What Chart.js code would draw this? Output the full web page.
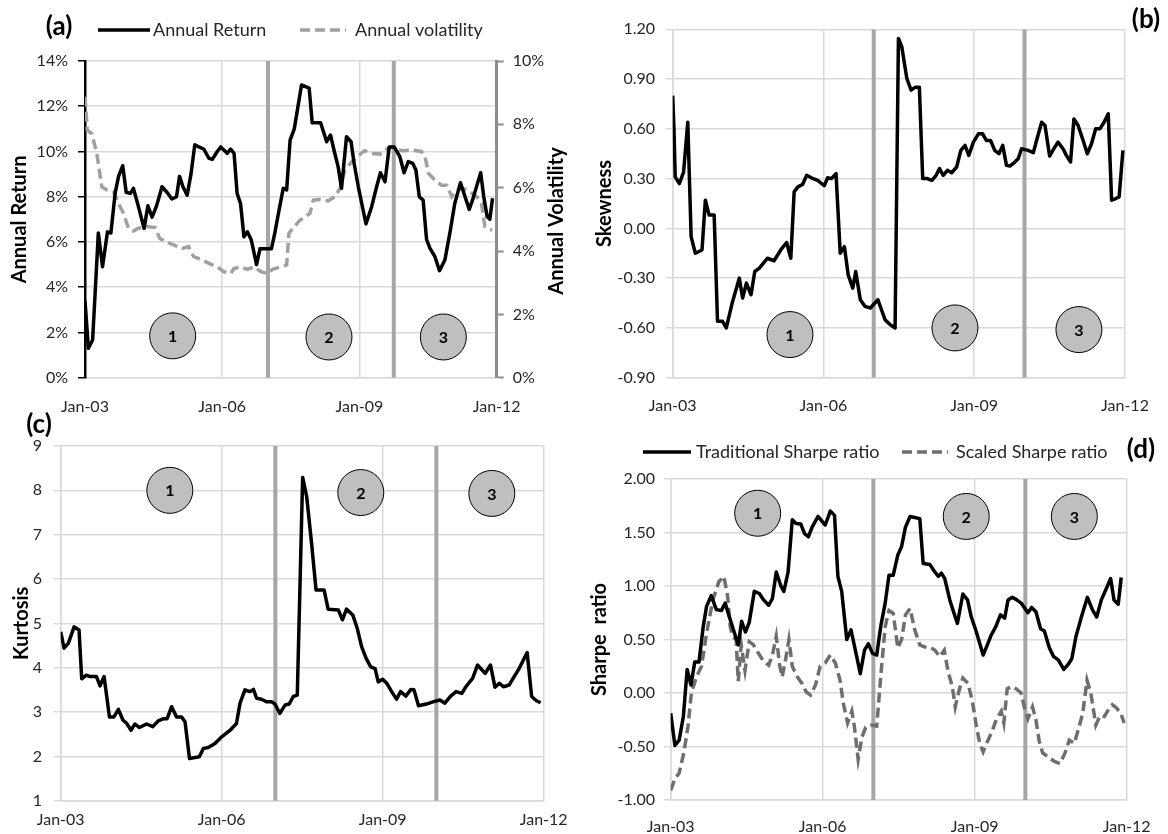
<!DOCTYPE html>
<html>
<head>
<meta charset="utf-8">
<title>Rolling statistics 2003-2012</title>
<script src="https://cdn.jsdelivr.net/npm/chart.js@4.4.1/dist/chart.umd.min.js"></script>
<style>
  html, body { margin: 0; padding: 0; background: #fff; }
  #wrap { position: relative; width: 1168px; height: 834px; overflow: hidden; }
  .panel { position: absolute; width: 584px; }
  .top { top: 0; height: 420px; }
  .bottom { top: 395px; height: 439px; }
</style>
</head>
<body>
<div id="wrap">
  <div class="panel top" style="left:0"><canvas id="chartA"></canvas></div>
  <div class="panel top" style="left:584px"><canvas id="chartB"></canvas></div>
  <div class="panel bottom" style="left:0"><canvas id="chartC"></canvas></div>
  <div class="panel bottom" style="left:584px"><canvas id="chartD"></canvas></div>
</div>
<script>
// x values are months counted from Jan-03 (0) to Jan-12 (108)
const xTickLabels = ['Jan-03', 'Jan-06', 'Jan-09', 'Jan-12'];

// regime breaks (months)
const regimeBreaksA = [48, 81];
const regimeBreaks = [48, 84];

// (a) annual return, %
const returnPoints = [[0,3.4],[0.9,1.3],[2,1.67],[3.5,6.4],[4.6,4.9],[5.9,6.45],[6.8,6.4],[7.9,8.15],[8.8,8.9],[9.9,9.37],[10.8,8.2],[11.9,8.15],[12.7,8.37],[13.8,7.7],[15.5,6.6],[16.5,7.6],[17.6,7.1],[18.7,7.56],[20.2,8.44],[21.5,8.2],[22.8,7.9],[24,8.0],[24.8,8.9],[25.7,8.44],[26.8,8.07],[27.8,9.0],[28.8,10.3],[29.9,10.2],[31.2,10.1],[32.5,9.7],[33.4,9.65],[34.7,10.0],[35.6,10.2],[37.3,9.92],[38.2,10.1],[39.1,9.92],[39.9,8.15],[40.8,7.7],[41.7,6.23],[42.6,6.45],[43.6,6.1],[45,5.0],[45.9,5.7],[47,5.7],[48.9,5.7],[49.8,6.4],[50.9,7.4],[52,8.37],[52.9,8.3],[53.8,10.5],[54.9,11.0],[56.8,12.94],[58.8,12.8],[59.6,11.27],[61.8,11.27],[63.4,10.43],[64.4,10.73],[65.4,10.0],[66.4,9.33],[67.3,8.37],[68.6,10.65],[69.8,10.43],[70.6,9.47],[71.7,8.44],[73.7,6.8],[75.2,7.56],[76.5,8.44],[77.5,9.06],[78.7,8.66],[79.8,10.2],[81.1,10.2],[82.6,9.77],[83.7,9.06],[84.8,9.55],[86,9.47],[86.8,9.18],[87.7,8.0],[88.7,7.85],[89.6,6.12],[90.5,5.72],[91.8,5.35],[93,4.73],[94.4,5.2],[95.7,6.38],[97,7.7],[98.5,8.62],[99.7,8.0],[100.8,7.44],[101.8,7.93],[102.7,8.44],[103.8,9.06],[104.6,8.0],[105.5,7.12],[106.2,7.0],[106.9,7.93]];

// (a) annual volatility, %
const volatilityPoints = [[0,8.87],[0.6,7.82],[1.8,7.7],[3.1,7.08],[4.4,6.03],[5.7,5.93],[7.5,5.87],[8.8,5.5],[10.1,5.19],[11.4,4.72],[12.7,4.63],[14,4.72],[16.2,4.77],[18.4,4.74],[19.6,4.4],[21.1,4.3],[23.3,4.19],[25.5,4.08],[27.2,4.14],[28.5,3.82],[30.3,3.74],[32.5,3.61],[34.7,3.5],[36.4,3.35],[38.2,3.29],[39.1,3.45],[40.8,3.5],[42.6,3.42],[44.3,3.5],[46.1,3.35],[47.8,3.29],[49.2,3.42],[51.4,3.5],[52.9,3.56],[53.5,4.56],[54.9,4.77],[56.2,4.95],[57.7,5.08],[59,5.19],[59.9,5.61],[61.6,5.63],[63.8,5.58],[65.6,5.72],[66.9,5.98],[68.2,6.56],[70,6.82],[71.3,6.98],[73.4,7.17],[75.2,7.08],[77.4,7.06],[79.1,7.21],[80.4,7.29],[81.3,7.21],[83.5,7.17],[85.7,7.19],[88.3,7.14],[89.2,6.98],[90.1,6.45],[91.8,6.24],[93.5,6.08],[94.9,6.08],[96.2,5.72],[97.5,5.93],[99.2,5.98],[101,5.87],[102.7,5.72],[104,5.5],[104.9,4.77],[106.2,4.68],[106.8,4.66]];

// (b) skewness
const skewPoints = [[0,0.80],[0.3,0.60],[0.6,0.31],[1.6,0.27],[2.6,0.34],[3.6,0.64],[4.4,-0.05],[5.4,-0.15],[7,-0.13],[7.8,0.17],[8.7,0.08],[9.9,0.08],[10.7,-0.56],[11.9,-0.56],[12.8,-0.60],[14.2,-0.45],[15.9,-0.30],[16.7,-0.42],[17.6,-0.33],[18.7,-0.40],[19.6,-0.26],[20.7,-0.24],[22.6,-0.18],[24.2,-0.195],[25.8,-0.13],[27.2,-0.085],[28.2,-0.18],[29,0.22],[29.9,0.25],[31,0.265],[32,0.32],[33.1,0.305],[34.6,0.29],[36.2,0.257],[37,0.305],[37.9,0.30],[39,0.33],[40,-0.15],[41,-0.11],[41.9,-0.28],[43,-0.36],[43.7,-0.26],[44.8,-0.43],[45.9,-0.47],[47.2,-0.48],[49,-0.43],[50.7,-0.55],[51.9,-0.58],[53.1,-0.60],[53.9,1.145],[54.7,1.095],[55.9,0.905],[56.9,0.834],[57.9,0.85],[58.9,0.85],[59.7,0.30],[60.8,0.30],[61.9,0.29],[62.9,0.32],[63.7,0.36],[64.6,0.32],[65.6,0.35],[66.6,0.335],[67.8,0.37],[68.8,0.47],[69.8,0.50],[70.7,0.44],[71.8,0.52],[73,0.57],[74,0.57],[74.9,0.53],[75.9,0.53],[76.9,0.47],[77.9,0.45],[78.8,0.50],[79.7,0.38],[80.5,0.376],[81.7,0.40],[82.5,0.42],[83.3,0.48],[84.9,0.47],[86.1,0.456],[87,0.54],[88.1,0.64],[88.9,0.62],[90,0.436],[91,0.48],[92,0.52],[93.2,0.48],[94,0.44],[95,0.40],[95.8,0.66],[96.8,0.62],[98,0.53],[99,0.45],[100,0.51],[101,0.60],[102,0.60],[103,0.64],[104,0.69],[104.8,0.17],[105.8,0.18],[106.6,0.19],[107.5,0.47]];

// (c) kurtosis
const kurtPoints = [[0,4.81],[0.75,4.44],[1.7,4.55],[3,4.92],[4.1,4.85],[4.7,3.75],[5.7,3.83],[6.6,3.80],[8,3.80],[8.8,3.59],[9.7,3.80],[10.9,2.89],[11.9,2.89],[12.9,3.06],[13.9,2.82],[14.8,2.74],[15.7,2.59],[16.6,2.73],[17.6,2.65],[19.2,2.73],[20.6,2.67],[21.8,2.80],[23,2.85],[23.8,2.85],[24.8,3.12],[25.9,2.89],[27,2.89],[27.8,2.78],[28.8,1.95],[31,1.99],[31.9,2.18],[33,2.2],[34.5,2.29],[36,2.44],[37.9,2.59],[39.3,2.74],[40.1,3.2],[41.2,3.5],[42.3,3.46],[43.1,3.51],[43.8,3.31],[44.9,3.29],[46,3.23],[47.2,3.23],[47.9,3.18],[49,2.97],[50.2,3.16],[51.1,3.18],[52,3.35],[52.9,3.38],[54.1,8.29],[55,7.86],[56.1,6.80],[57.1,5.75],[58.9,5.75],[59.8,5.32],[62.1,5.30],[63,5.08],[63.9,5.32],[65.3,5.19],[66.3,4.89],[67.3,4.47],[68.3,4.21],[69.3,4.02],[70.3,3.98],[71,3.68],[72,3.74],[72.9,3.65],[74,3.46],[75.1,3.29],[76,3.46],[77.2,3.36],[78.3,3.51],[79,3.50],[80,3.14],[81.8,3.18],[83.2,3.23],[84.8,3.27],[85.9,3.20],[87.2,3.36],[88.4,3.46],[89.7,3.42],[90.6,3.57],[92.1,3.76],[93.2,4.06],[94.9,3.87],[96.1,4.06],[97.1,3.56],[98.1,3.65],[99,3.57],[100.3,3.61],[101.4,3.80],[102.5,3.98],[104.3,4.34],[105.3,3.35],[106.3,3.26],[107.3,3.21]];

// (d) traditional Sharpe ratio
const sharpePoints = [[0,-0.19],[1,-0.49],[2,-0.44],[3,-0.22],[3.9,0.22],[4.8,0.075],[5.7,0.29],[6.7,0.29],[7.7,0.62],[8.5,0.81],[9.6,0.91],[10.8,0.78],[12,0.77],[12.9,0.84],[13.9,0.71],[15.1,0.56],[16,0.45],[16.8,0.67],[17.7,0.57],[18.6,0.66],[19.8,0.95],[21,0.93],[21.9,0.875],[23.2,0.82],[24.1,0.885],[25,1.13],[26.1,1.0],[26.8,0.95],[27.8,1.13],[28.8,1.62],[29.7,1.585],[30.8,1.58],[31.7,1.49],[32.6,1.46],[33.5,1.55],[34.9,1.65],[36.6,1.57],[37.8,1.70],[38.8,1.66],[39.6,1.09],[40.5,0.95],[41.7,0.50],[42.7,0.59],[43.9,0.37],[44.9,0.18],[45.9,0.40],[46.8,0.46],[47.8,0.37],[48.8,0.355],[49.8,0.635],[50.8,0.84],[51.7,1.10],[52.7,1.10],[53.8,1.29],[54.7,1.37],[55.6,1.55],[56.7,1.65],[57.8,1.64],[59,1.63],[59.8,1.21],[61.4,1.20],[62.4,1.14],[63.4,1.09],[64.1,1.12],[64.9,1.07],[66.1,0.87],[67.1,0.745],[67.9,0.65],[69.2,0.925],[70.3,0.87],[71.2,0.71],[72.4,0.57],[74,0.355],[75,0.45],[75.9,0.54],[77,0.62],[78.1,0.73],[79.1,0.70],[79.9,0.87],[80.9,0.894],[81.8,0.875],[83,0.84],[84.6,0.75],[85.5,0.80],[86.5,0.76],[87.6,0.60],[88.5,0.58],[89.7,0.42],[90.7,0.34],[91.8,0.31],[93.1,0.22],[94,0.26],[95,0.32],[96,0.53],[97.2,0.70],[98.7,0.894],[99.9,0.776],[100.9,0.71],[102,0.87],[103,0.96],[104.2,1.07],[105,0.87],[106,0.83],[106.7,1.08]];

// (d) scaled Sharpe ratio
const scaledSharpePoints = [[0,-0.91],[1,-0.80],[2,-0.75],[3.1,-0.56],[4.1,-0.31],[4.9,0],[6.1,0.15],[7.3,0.25],[8.5,0.56],[10,0.87],[11.4,1.04],[12.6,1.09],[13.5,0.90],[14.1,0.62],[14.6,0.53],[15.5,0.50],[16,0.11],[16.7,0.45],[17.6,0.21],[18.6,0.48],[19.6,0.45],[20.8,0.37],[22.1,0.29],[23.2,0.26],[24.1,0.355],[25,0.53],[25.8,0.26],[26.4,0.15],[27.2,0.31],[28,0.50],[28.8,0.25],[30,0.15],[31.1,0.09],[32.1,0.01],[33.1,-0.02],[34.3,0.075],[35.4,0.25],[36.6,0.28],[37.8,0.355],[39,0.28],[40.1,0.12],[40.9,-0.10],[41.9,-0.28],[42.9,-0.17],[43.5,-0.31],[44.4,-0.62],[45.3,-0.41],[46.2,-0.32],[47.6,-0.30],[48.8,-0.31],[49.8,0.18],[50.8,0.62],[51.7,0.77],[52.7,0.745],[53.8,0.42],[54.7,0.50],[55.6,0.73],[56.7,0.79],[57.8,0.59],[59,0.45],[60.2,0.43],[61.4,0.43],[62.6,0.40],[63.7,0.34],[64.8,0.40],[65.7,0.20],[66.7,0.06],[67.4,-0.13],[68.2,0.01],[69.2,0.14],[70.4,0.09],[71.4,-0.065],[72.4,-0.31],[73.2,-0.47],[74,-0.55],[75,-0.455],[76.1,-0.36],[77.1,-0.25],[78.3,-0.17],[78.9,-0.28],[79.7,0.04],[80.6,0.06],[81.8,0.04],[83,0.0],[83.8,-0.14],[84.6,-0.24],[85.7,-0.13],[86.5,-0.25],[87.3,-0.455],[88.1,-0.56],[89.3,-0.595],[90.9,-0.64],[92.2,-0.66],[93.4,-0.56],[94.4,-0.44],[95.6,-0.47],[96.4,-0.36],[97.6,-0.19],[98.6,0.12],[99.5,0.0],[100.7,-0.30],[101.7,-0.21],[102.7,-0.22],[103.6,-0.16],[104.6,-0.11],[105.6,-0.14],[106.6,-0.19],[107.4,-0.28]];

const FONT = 'Lato, "Open Sans", sans-serif';
const GRID = '#d9d9d9';
const INK = '#262626';

Chart.defaults.font.family = FONT;
Chart.defaults.font.size = 16;
Chart.defaults.color = INK;
Chart.defaults.animation = false;
Chart.defaults.events = [];
Chart.defaults.elements.point.radius = 0;
Chart.defaults.plugins.legend.display = false;
Chart.defaults.plugins.tooltip.enabled = false;

const toXY = pts => pts.map(([x, y]) => ({ x, y }));

// force a scale's box size so every panel keeps the reference plot area
const fixSize = (w, h) => scale => {
  if (w != null) scale.width = w;
  if (h != null) scale.height = h;
};

// legend samples, panel letters, rotated secondary title and circle numbers
const panelExtras = {
  id: 'panelExtras',
  afterDatasetsDraw(chart) {
    const ctx = chart.ctx;
    ctx.save();
    ctx.font = `bold 16px ${FONT}`;
    ctx.fillStyle = '#000';
    ctx.textAlign = 'center';
    ctx.textBaseline = 'middle';
    chart.data.datasets.forEach((ds, i) => {
      if (!ds.badges) return;
      chart.getDatasetMeta(i).data.forEach((pt, j) => ctx.fillText(ds.badges[j], pt.x, pt.y + 1));
    });
    ctx.restore();
  },
  afterDraw(chart, args, opts) {
    const ctx = chart.ctx;
    ctx.save();
    if (opts.letter) {
      ctx.font = `bold 26px ${FONT}`;
      ctx.fillStyle = '#000';
      ctx.textAlign = 'center';
      ctx.textBaseline = 'middle';
      ctx.fillText(opts.letter.text, opts.letter.x, opts.letter.y);
    }
    (opts.legend || []).forEach(item => {
      const ds = chart.data.datasets[item.index];
      ctx.strokeStyle = ds.borderColor;
      ctx.lineWidth = ds.borderWidth;
      ctx.setLineDash(ds.borderDash || []);
      ctx.beginPath();
      ctx.moveTo(item.x, item.y);
      ctx.lineTo(item.x + item.width, item.y);
      ctx.stroke();
      ctx.setLineDash([]);
      ctx.font = `18px ${FONT}`;
      ctx.fillStyle = INK;
      ctx.textAlign = 'left';
      ctx.textBaseline = 'middle';
      ctx.fillText(ds.label, item.x + item.width + (item.gap || 4), item.y);
    });
    if (opts.sideTitle) {
      ctx.translate(opts.sideTitle.x, opts.sideTitle.y);
      ctx.rotate(-Math.PI / 2);
      ctx.font = `bold 20px ${FONT}`;
      ctx.fillStyle = '#000';
      ctx.textAlign = 'center';
      ctx.textBaseline = 'middle';
      ctx.fillText(opts.sideTitle.text, 0, 0);
    }
    ctx.restore();
  }
};

function xAxis(height, pad) {
  return {
    type: 'linear',
    min: 0,
    max: 108,
    afterFit: fixSize(null, height),
    ticks: { stepSize: 36, padding: pad, autoSkip: false, maxRotation: 0, callback: v => xTickLabels[Math.round(v / 36)] },
    grid: { color: GRID, lineWidth: 1.5, drawTicks: false },
    border: { color: GRID, width: 1.5 }
  };
}

function yAxis({ min, max, step, width, pad, title, titlePad, fmt, axisColor, axisWidth, tickColor }) {
  return {
    position: 'left',
    min, max,
    afterFit: fixSize(width, null),
    ticks: { stepSize: step, padding: pad, autoSkip: false, callback: fmt },
    grid: { color: GRID, lineWidth: 1.5, tickLength: 7, tickColor: tickColor || GRID, tickWidth: 1.5 },
    border: { color: axisColor || GRID, width: axisWidth || 1.5 },
    title: { display: true, text: title, color: '#000', font: { size: 20, weight: 'bold' }, padding: { top: titlePad, bottom: 0 } }
  };
}

const fixed2 = v => (Math.abs(v) < 1e-9 ? 0 : v).toFixed(2);

function regimeLines(breaks, lo, hi, axis) {
  return breaks.map(m => ({
    label: 'regime',
    data: [{ x: m, y: lo }, { x: m, y: hi }],
    borderColor: '#a6a6a6',
    borderWidth: 4,
    yAxisID: axis,
    order: 3
  }));
}

function badges(points, axis) {
  return {
    label: 'badges',
    data: toXY(points),
    showLine: false,
    pointRadius: 23,
    pointBackgroundColor: '#bfbfbf',
    pointBorderColor: '#000',
    pointBorderWidth: 1,
    yAxisID: axis,
    order: 0,
    badges: ['1', '2', '3']
  };
}

function solid(label, points, axis) {
  return { label, data: toXY(points), borderColor: '#000', borderWidth: 3.5, borderJoinStyle: 'round', yAxisID: axis, order: 1 };
}

function dashed(label, points, axis, color) {
  return { label, data: toXY(points), borderColor: color, borderWidth: 3.5, borderDash: [10, 5], yAxisID: axis, order: 2 };
}

const base = { responsive: true, maintainAspectRatio: false };

// (a) return and volatility
new Chart(document.getElementById('chartA'), {
  type: 'line',
  data: {
    datasets: [
      solid('Annual Return', returnPoints, 'y'),
      dashed('Annual volatility', volatilityPoints, 'y2', '#a0a0a0'),
      ...regimeLines(regimeBreaksA, 0, 14, 'y'),
      badges([[23, 1.85], [64, 1.8], [94, 1.8]], 'y')
    ]
  },
  options: {
    ...base,
    layout: { padding: { top: 61, left: 0, right: 0, bottom: 0 } },
    scales: {
      x: xAxis(42.3, 19.7),
      y: yAxis({ min: 0, max: 14, step: 2, width: 85, pad: 10, title: 'Annual Return', titlePad: 8,
                 fmt: v => v + '%', axisColor: '#000', axisWidth: 2.5, tickColor: '#000' }),
      y2: {
        position: 'right',
        min: 0, max: 10,
        afterFit: fixSize(87.3, null),
        ticks: { stepSize: 2, padding: 9, callback: v => v + '%' },
        grid: { drawOnChartArea: false, tickLength: 7, tickColor: '#8c8c8c', tickWidth: 2 },
        border: { color: '#8c8c8c', width: 3 }
      }
    },
    plugins: {
      panelExtras: {
        letter: { text: '(a)', x: 59, y: 27 },
        legend: [{ index: 0, x: 98, y: 30, width: 52, gap: 3 }, { index: 1, x: 300, y: 30, width: 46, gap: 9 }],
        sideTitle: { text: 'Annual Volatility', x: 557, y: 221 }
      }
    }
  },
  plugins: [panelExtras]
});

// (b) skewness
new Chart(document.getElementById('chartB'), {
  type: 'line',
  data: {
    datasets: [
      solid('Skewness', skewPoints, 'y'),
      ...regimeLines(regimeBreaks, -0.9, 1.2, 'y'),
      badges([[28, -0.64], [67.4, -0.60], [97, -0.61]], 'y')
    ]
  },
  options: {
    ...base,
    layout: { padding: { top: 29.3, left: 0, right: 43, bottom: 0 } },
    scales: {
      x: xAxis(42.3, 18.2),
      y: yAxis({ min: -0.9, max: 1.2, step: 0.3, width: 88.7, pad: 10.7, title: 'Skewness', titlePad: 9, fmt: fixed2 })
    },
    plugins: { panelExtras: { letter: { text: '(b)', x: 562, y: 20 } } }
  },
  plugins: [panelExtras]
});

// (c) kurtosis
new Chart(document.getElementById('chartC'), {
  type: 'line',
  data: {
    datasets: [
      solid('Kurtosis', kurtPoints, 'y'),
      ...regimeLines(regimeBreaks, 1, 9, 'y'),
      badges([[24.4, 8.0], [67.1, 7.95], [96.4, 7.93]], 'y')
    ]
  },
  options: {
    ...base,
    layout: { padding: { top: 51, left: 0, right: 40.3, bottom: 0 } },
    scales: {
      x: xAxis(33.3, 9.7),
      y: yAxis({ min: 1, max: 9, step: 1, width: 60.7, pad: 11.7, title: 'Kurtosis', titlePad: 9.7, fmt: v => v })
    },
    plugins: { panelExtras: { letter: { text: '(c)', x: 39, y: 30 } } }
  },
  plugins: [panelExtras]
});

// (d) Sharpe ratios
new Chart(document.getElementById('chartD'), {
  type: 'line',
  data: {
    datasets: [
      solid('Traditional Sharpe ratio', sharpePoints, 'y'),
      dashed('Scaled Sharpe ratio', scaledSharpePoints, 'y', '#6e6e6e'),
      ...regimeLines(regimeBreaks, -1, 2, 'y'),
      badges([[20.6, 1.68], [70, 1.65], [95.6, 1.65]], 'y')
    ]
  },
  options: {
    ...base,
    layout: { padding: { top: 84, left: 0, right: 38.7, bottom: 0 } },
    scales: {
      x: xAxis(34, 17.4),
      y: yAxis({ min: -1, max: 2, step: 0.5, width: 86.7, pad: 8.7, title: 'Sharpe  ratio', titlePad: 4, fmt: fixed2 })
    },
    plugins: {
      panelExtras: {
        letter: { text: '(d)', x: 557, y: 55 },
        legend: [{ index: 0, x: 59, y: 57, width: 48, gap: 5 }, { index: 1, x: 318, y: 57, width: 46, gap: 8 }]
      }
    }
  },
  plugins: [panelExtras]
});
</script>
</body>
</html>
